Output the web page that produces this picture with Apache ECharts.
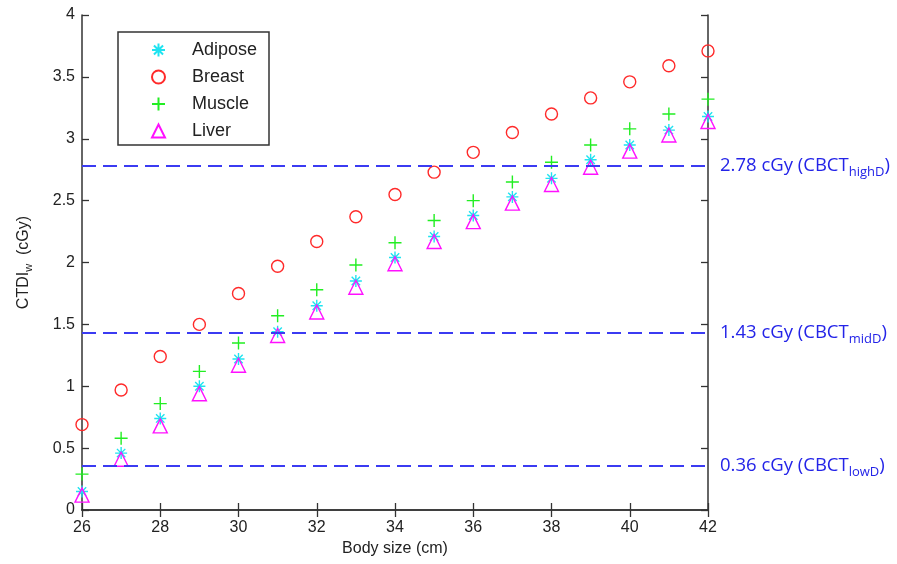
<!DOCTYPE html>
<html>
<head>
<meta charset="utf-8">
<script src="https://cdn.jsdelivr.net/npm/echarts@6/dist/echarts.min.js"></script>
<style>
  html, body { margin: 0; padding: 0; background: #fff; }
  #chart { width: 897px; height: 564px; }
</style>
</head>
<body>
<div id="chart"></div>
<script>
// body size (cm)
const bodySize = [26, 27, 28, 29, 30, 31, 32, 33, 34, 35, 36, 37, 38, 39, 40, 41, 42]

// CTDIw (cGy) per tissue
const adipose = [0.15, 0.46, 0.74, 1.00, 1.22, 1.44, 1.65, 1.85, 2.04, 2.21, 2.38, 2.53, 2.68, 2.83, 2.95, 3.07, 3.18]
const breast  = [0.69, 0.97, 1.24, 1.50, 1.75, 1.97, 2.17, 2.37, 2.55, 2.73, 2.89, 3.05, 3.20, 3.33, 3.46, 3.59, 3.71]
const muscle  = [0.29, 0.58, 0.86, 1.12, 1.35, 1.57, 1.78, 1.98, 2.16, 2.34, 2.50, 2.65, 2.81, 2.95, 3.08, 3.20, 3.32]
const liver   = [0.12, 0.41, 0.68, 0.94, 1.17, 1.41, 1.60, 1.80, 1.99, 2.17, 2.33, 2.48, 2.63, 2.77, 2.90, 3.03, 3.14]

// dose levels (dashed lines)
const doseValues = [2.78, 1.43, 0.36]
const doseLabels = ['highD', 'midD', 'lowD']

const toPairs = (ys) => bodySize.map((x, i) => [x, ys[i]])

const axisColor = '#333'
const lineBlue = '#3b3bf2'
const textBlue = '#2424e8'

const chart = echarts.init(document.getElementById('chart'))

// 虚线 + 右侧标注
const doseLines = doseValues.map((v, i) => ({
  yAxis: v,
  label: {
    formatter: '{a|' + v.toFixed(2) + ' cGy (CBCT}{s|' + doseLabels[i] + '}{a|)}'
  }
}))

const baseSeries = (name, data, symbol, size, color) => ({
  name: name,
  type: 'scatter',
  data: toPairs(data),
  symbol: symbol,
  symbolSize: size,
  itemStyle: {
    color: 'transparent',
    borderColor: color,
    borderWidth: 1.4,
    opacity: 1
  },
  emphasis: { disabled: true }
})

const option = {
  backgroundColor: '#fff',
  animation: false,
  grid: { left: 82, right: 189, top: 15, bottom: 54 },
  legend: {
    orient: 'vertical',
    left: 151,
    top: 41,
    padding: 0,
    itemWidth: 13,
    itemHeight: 13,
    itemGap: 9,
    textStyle: {
      fontFamily: 'Liberation Sans',
      fontSize: 18,
      color: '#222',
      padding: [0, 0, 0, 22]
    },
    data: ['Adipose', 'Breast', 'Muscle', 'Liver']
  },
  xAxis: [
    {
      type: 'value',
      min: 26,
      max: 42,
      interval: 2,
      name: 'Body size (cm)',
      nameLocation: 'middle',
      nameGap: 31,
      nameTextStyle: { fontFamily: 'Liberation Sans', fontSize: 16, color: '#222' },
      axisLine: { show: true, lineStyle: { color: axisColor, width: 1.5 } },
      axisTick: { show: true, inside: true, length: 7, lineStyle: { color: axisColor, width: 1.3 } },
      axisLabel: { fontFamily: 'Liberation Sans', fontSize: 16, color: '#222', margin: 10 },
      splitLine: { show: false }
    },
    {
      type: 'value',
      position: 'top',
      min: 26,
      max: 42,
      interval: 2,
      axisLine: { show: true, lineStyle: { color: axisColor, width: 1.5 } },
      axisTick: { show: true, inside: true, length: 7, lineStyle: { color: axisColor, width: 1.3 } },
      axisLabel: { show: false },
      splitLine: { show: false }
    }
  ],
  yAxis: [
    {
      type: 'value',
      min: 0,
      max: 4,
      interval: 0.5,
      name: '{a|CTDI}{s|w}{a|  (cGy)}',
      nameLocation: 'middle',
      nameGap: 50,
      nameTextStyle: {
        color: '#222',
        rich: {
          a: { fontFamily: 'Liberation Sans', fontSize: 16, color: '#222' },
          s: { fontFamily: 'Liberation Sans', fontSize: 11, color: '#222', lineHeight: 11, padding: [10, 0, 0, 0] }
        }
      },
      axisLine: { show: true, lineStyle: { color: axisColor, width: 1.5 } },
      axisTick: { show: true, inside: true, length: 7, lineStyle: { color: axisColor, width: 1.3 } },
      axisLabel: { fontFamily: 'Liberation Sans', fontSize: 16, color: '#222', margin: 7 },
      splitLine: { show: false }
    },
    {
      type: 'value',
      position: 'right',
      min: 0,
      max: 4,
      interval: 0.5,
      axisLine: { show: true, lineStyle: { color: axisColor, width: 1.5 } },
      axisTick: { show: true, inside: true, length: 7, lineStyle: { color: axisColor, width: 1.3 } },
      axisLabel: { show: false },
      splitLine: { show: false }
    }
  ],
  series: [
    Object.assign(baseSeries('Adipose', adipose, 'path://M5,0L5,10M0,5L10,5M1.5,1.5L8.5,8.5M8.5,1.5L1.5,8.5', 12, '#1fe3f0'), {
      markLine: {
        silent: true,
        symbol: 'none',
        lineStyle: { color: lineBlue, width: 2, type: [14, 7] },
        label: {
          position: 'end',
          distance: 12,
          rich: {
            a: { fontFamily: 'Open Sans', fontSize: 18.5, color: textBlue },
            s: { fontFamily: 'Open Sans', fontSize: 13, color: textBlue, lineHeight: 13, padding: [13, 0, 0, 0] }
          }
        },
        data: doseLines
      }
    }),
    baseSeries('Breast', breast, 'circle', 12, '#ff2a2a'),
    baseSeries('Muscle', muscle, 'path://M5,0L5,10M0,5L10,5', 13, '#22ee22'),
    baseSeries('Liver', liver, 'triangle', 14, '#ff10ff')
  ],
  graphic: [
    {
      type: 'rect',
      shape: { x: 118, y: 32, width: 151, height: 113 },
      style: { fill: 'transparent', stroke: '#333', lineWidth: 1.5 },
      silent: true
    }
  ]
}

chart.setOption(option)
</script>
</body>
</html>
